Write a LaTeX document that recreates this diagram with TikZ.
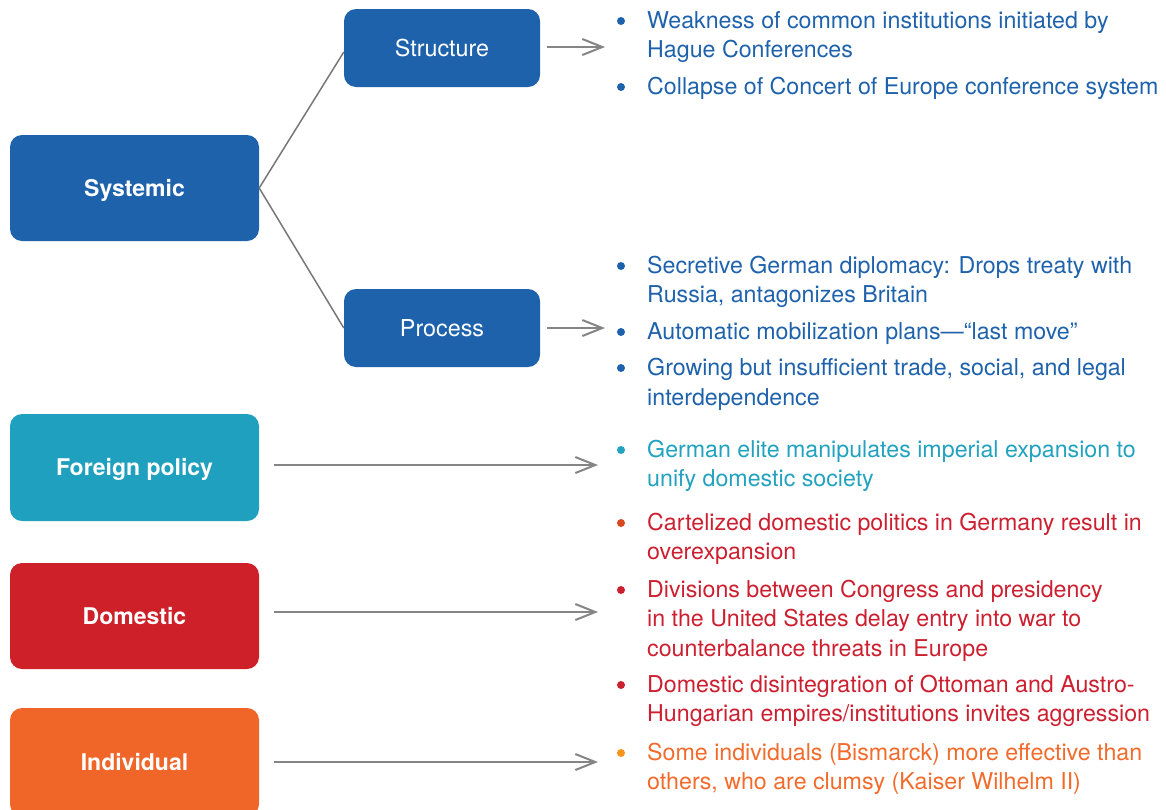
\documentclass[tikz,border=0pt]{standalone}
\usepackage{fontspec}
\setmainfont{TeX Gyre Heros}
\usetikzlibrary{arrows.meta}
\definecolor{cblue}{HTML}{1F62AC}
\definecolor{ccyan}{HTML}{1FA0BF}
\definecolor{cred}{HTML}{CD2029}
\definecolor{corange}{HTML}{F06629}
\definecolor{tcyan}{HTML}{22A2BF}
\definecolor{tred}{HTML}{CC2030}
\definecolor{torange}{HTML}{F26B2A}
\definecolor{bredorange}{HTML}{D8481E}
\definecolor{byellow}{HTML}{F7941E}
\definecolor{cgray}{HTML}{858585}
\definecolor{lgray}{HTML}{777777}
\tikzset{
  bigbox/.style={rectangle, rounded corners=12pt, minimum width=249pt, minimum height=106pt, inner sep=0pt, text height=16.5pt, text depth=0pt, text=white, font=\fontsize{23}{28}\selectfont\bfseries},
  smallbox/.style={rectangle, rounded corners=12pt, fill=cblue, minimum width=196pt, minimum height=78pt, inner sep=0pt, text height=16.5pt, text depth=0pt, text=white, font=\fontsize{23.3}{28}\selectfont},
  link/.style={draw=lgray, line width=1.5pt},
  arr/.style={draw=cgray, line width=2pt, -{Straight Barb[length=20pt,width=16pt]}},
  bul/.style={circle, inner sep=0pt, minimum size=8pt},
  item/.style={anchor=base west, inner sep=0pt, font=\fontsize{23.2}{29.5}\selectfont}
}
\begin{document}
\begin{tikzpicture}[x=1pt,y=-1pt]
\useasboundingbox (0,0) rectangle (1166,809);
% boxes
\node[bigbox, fill=cblue] (sys) at (134.5,188) {Systemic};
\node[smallbox] (str) at (442,48) {Structure};
\node[smallbox] (pro) at (442,328) {Process};
\node[bigbox, fill=ccyan, minimum height=107pt] (for) at (134.5,467.5) {Foreign policy};
\node[bigbox, fill=cred] (dom) at (134.5,616) {Domestic};
\node[bigbox, fill=corange, minimum height=108pt] (ind) at (134.5,762) {Individual};
% links
\draw[link] (sys.east) -- ([yshift=-4pt]str.west);
\draw[link] (sys.east) -- (pro.west);
% arrow ends
\coordinate (strE) at (605,47);
\coordinate (proE) at (605,328);
\coordinate (forE) at (598,465);
\coordinate (domE) at (598,612);
\coordinate (indE) at (598,762);
\draw[arr, shorten <=7pt] (str.east |- strE) -- (strE);
\draw[arr, shorten <=7pt] (pro.east |- proE) -- (proE);
\draw[arr, shorten <=15pt] (for.east |- forE) -- (forE);
\draw[arr, shorten <=15pt] (dom.east |- domE) -- (domE);
\draw[arr, shorten <=15pt] (ind.east |- indE) -- (indE);
% structure items
\node[bul, fill=cblue] (b1) at (621,21) {};
\node[item, text=cblue] (t1a) at (647,28) {Weakness of common institutions initiated by};
\node[item, text=cblue] (t1b) at (647,57.5) {Hague Conferences};
\node[bul, fill=cblue] (b2) at (621,87) {};
\node[item, text=cblue] (t2a) at (647,94) {Collapse of Concert of Europe conference system};
% process items
\node[bul, fill=cblue] (b3) at (621,266) {};
\node[item, text=cblue] (t3a) at (647,273) {Secretive German diplomacy: Drops treaty with};
\node[item, text=cblue] (t3b) at (647,302.5) {Russia, antagonizes Britain};
\node[bul, fill=cblue] (b4) at (621,332) {};
\node[item, text=cblue] (t4a) at (647,339) {Automatic mobilization plans---``last move''};
\node[bul, fill=cblue] (b5) at (621,368) {};
\node[item, text=cblue] (t5a) at (647,375.5) {Growing but insufficient trade, social, and legal};
\node[item, text=cblue] (t5b) at (647,405) {interdependence};
% foreign
\node[bul, fill=tcyan] (b6) at (621,450) {};
\node[item, text=tcyan] (t6a) at (647,457) {German elite manipulates imperial expansion to};
\node[item, text=tcyan] (t6b) at (647,486.5) {unify domestic society};
% domestic
\node[bul, fill=bredorange] (b7) at (621,523) {};
\node[item, text=tred] (t7a) at (647,530) {Cartelized domestic politics in Germany result in};
\node[item, text=tred] (t7b) at (647,559.5) {overexpansion};
\node[bul, fill=tred] (b8) at (621,590) {};
\node[item, text=tred] (t8a) at (647,597) {Divisions between Congress and presidency};
\node[item, text=tred] (t8b) at (647,626.5) {in the United States delay entry into war to};
\node[item, text=tred] (t8c) at (647,656) {counterbalance threats in Europe};
\node[bul, fill=tred] (b9) at (621,685) {};
\node[item, text=tred] (t9a) at (647,692) {Domestic disintegration of Ottoman and Austro-};
\node[item, text=tred] (t9b) at (647,721.5) {Hungarian empires/institutions invites aggression};
% individual
\node[bul, fill=byellow] (b10) at (621,753) {};
\node[item, text=torange] (t10a) at (647,760) {Some individuals (Bismarck) more effective than};
\node[item, text=torange] (t10b) at (647,789.5) {others, who are clumsy (Kaiser Wilhelm II)};
\end{tikzpicture}
\end{document}
